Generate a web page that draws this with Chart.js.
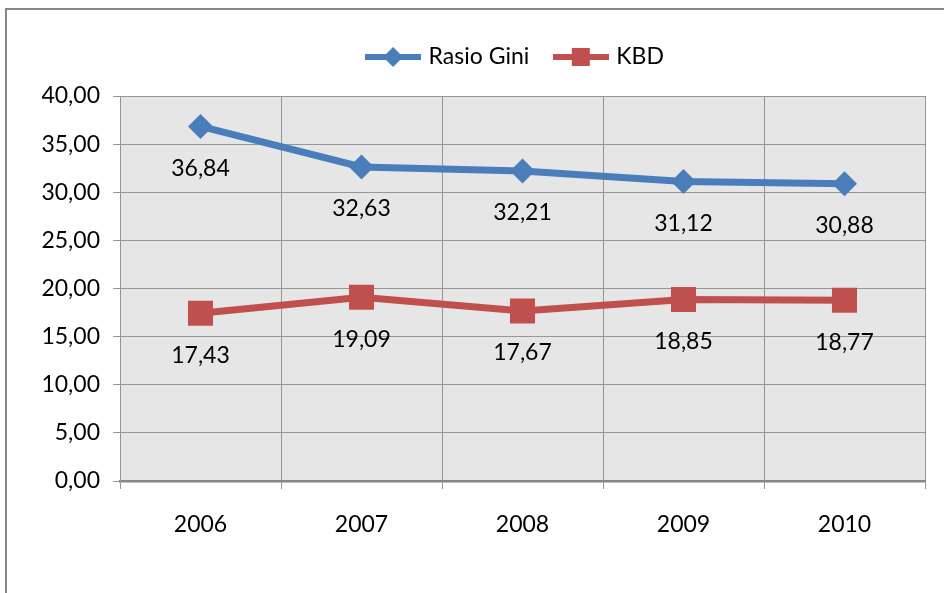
<!DOCTYPE html>
<html>
<head>
<meta charset="utf-8">
<title>Rasio Gini dan KBD</title>
<script src="https://cdn.jsdelivr.net/npm/chart.js@4"></script>
<style>
  html, body { margin: 0; padding: 0; background: #fff; overflow: hidden; }
  #frame { position: absolute; left: 5px; top: 8px; width: 1000px; height: 700px; border: 2px solid #878787; }
  #chart { position: absolute; left: 0; top: 0; }
</style>
</head>
<body>
<div id="frame"></div>
<canvas id="chart" width="944" height="593"></canvas>
<script>
// Data
const years = ['2006', '2007', '2008', '2009', '2010'];
const rasioGini = [36.84, 32.63, 32.21, 31.12, 30.88];
const kbd = [17.43, 19.09, 17.67, 18.85, 18.77];
const seriesNames = ['Rasio Gini', 'KBD'];
const yMin = 0, yMax = 40, yStep = 5;

const blue = '#4a7ebb';
const red = '#c0504d';

// number format with comma as decimal separator
function fmt(v) {
    return Number(v).toFixed(2).replace('.', ',');
}

// legend icon: line with marker in the middle
function legendIcon(color, shape) {
    const c = document.createElement('canvas');
    c.width = 56;
    c.height = 24;
    const g = c.getContext('2d');
    g.strokeStyle = color;
    g.lineWidth = 6;
    g.beginPath();
    g.moveTo(0, 12);
    g.lineTo(56, 12);
    g.stroke();
    g.fillStyle = color;
    if (shape === 'diamond') {
        g.beginPath();
        g.moveTo(28, 2);
        g.lineTo(38, 12);
        g.lineTo(28, 22);
        g.lineTo(18, 12);
        g.closePath();
        g.fill();
    } else {
        g.fillRect(19, 3, 18, 18);
    }
    return c;
}
const icons = [legendIcon(blue, 'diamond'), legendIcon(red, 'square')];

// grey plot area
const plotBackground = {
    id: 'plotBackground',
    beforeDraw(chart) {
        const a = chart.chartArea;
        const ctx = chart.ctx;
        ctx.save();
        ctx.fillStyle = '#e6e6e6';
        ctx.fillRect(a.left, a.top, a.right - a.left, a.bottom - a.top);
        ctx.restore();
    }
};

// extra space between legend and plot, legend a bit left of plot centre
const legendGap = {
    id: 'legendGap',
    beforeLayout(chart) {
        const lg = chart.legend;
        if (lg && !lg._gapPatched) {
            const fit = lg.fit;
            lg.fit = function() {
                fit.call(this);
                this.height += 17.5;
            };
            lg._gapPatched = true;
        }
    },
    afterLayout(chart) {
        const lg = chart.legend;
        if (lg) {
            lg.left -= 6;
            lg.right -= 6;
        }
    }
};

// value labels under each point
const valueLabels = {
    id: 'valueLabels',
    afterDatasetsDraw(chart) {
        const ctx = chart.ctx;
        ctx.save();
        ctx.font = '23px Lato';
        ctx.fillStyle = '#000';
        ctx.textAlign = 'center';
        ctx.textBaseline = 'middle';
        chart.data.datasets.forEach(function(ds, i) {
            chart.getDatasetMeta(i).data.forEach(function(pt, j) {
                ctx.fillText(fmt(ds.data[j]), pt.x, pt.y + 42);
            });
        });
        ctx.restore();
    }
};

Chart.defaults.font.family = 'Lato';
Chart.defaults.font.size = 23;
Chart.defaults.color = '#000';

new Chart(document.getElementById('chart').getContext('2d'), {
    type: 'line',
    data: {
        labels: years,
        datasets: [{
            label: seriesNames[0],
            data: rasioGini,
            borderColor: blue,
            backgroundColor: blue,
            borderWidth: 7,
            pointStyle: 'rectRot',
            pointRadius: 12.5,
            pointBorderWidth: 0,
            tension: 0
        }, {
            label: seriesNames[1],
            data: kbd,
            borderColor: red,
            backgroundColor: red,
            borderWidth: 7,
            pointStyle: 'rect',
            pointRadius: 17.7,
            pointBorderWidth: 0,
            tension: 0
        }]
    },
    options: {
        responsive: false,
        animation: false,
        layout: {
            padding: { left: 30, right: 19, top: 18, bottom: 0 }
        },
        scales: {
            x: {
                offset: true,
                grid: { offset: true, color: '#969696', lineWidth: 1, tickLength: 8 },
                border: { color: '#868686', width: 2.5 },
                ticks: { padding: 22, color: '#000' },
                afterFit: function(scale) { scale.height = 112; }
            },
            y: {
                min: yMin,
                max: yMax,
                grid: { color: '#969696', lineWidth: 1, tickLength: 7 },
                border: { color: '#969696', width: 1 },
                ticks: {
                    stepSize: yStep,
                    padding: 13,
                    color: '#000',
                    callback: function(v) { return fmt(v); }
                },
                afterFit: function(scale) { scale.width = 90; }
            }
        },
        plugins: {
            legend: {
                position: 'top',
                fullSize: false,
                labels: {
                    usePointStyle: true,
                    pointStyleWidth: 48,
                    padding: 27.5,
                    color: '#000',
                    font: { size: 23 },
                    generateLabels: function(chart) {
                        const items = Chart.defaults.plugins.legend.labels.generateLabels(chart);
                        items.forEach(function(it, i) { it.pointStyle = icons[i]; });
                        return items;
                    }
                }
            },
            tooltip: { enabled: false }
        }
    },
    plugins: [plotBackground, legendGap, valueLabels]
});
</script>
</body>
</html>
